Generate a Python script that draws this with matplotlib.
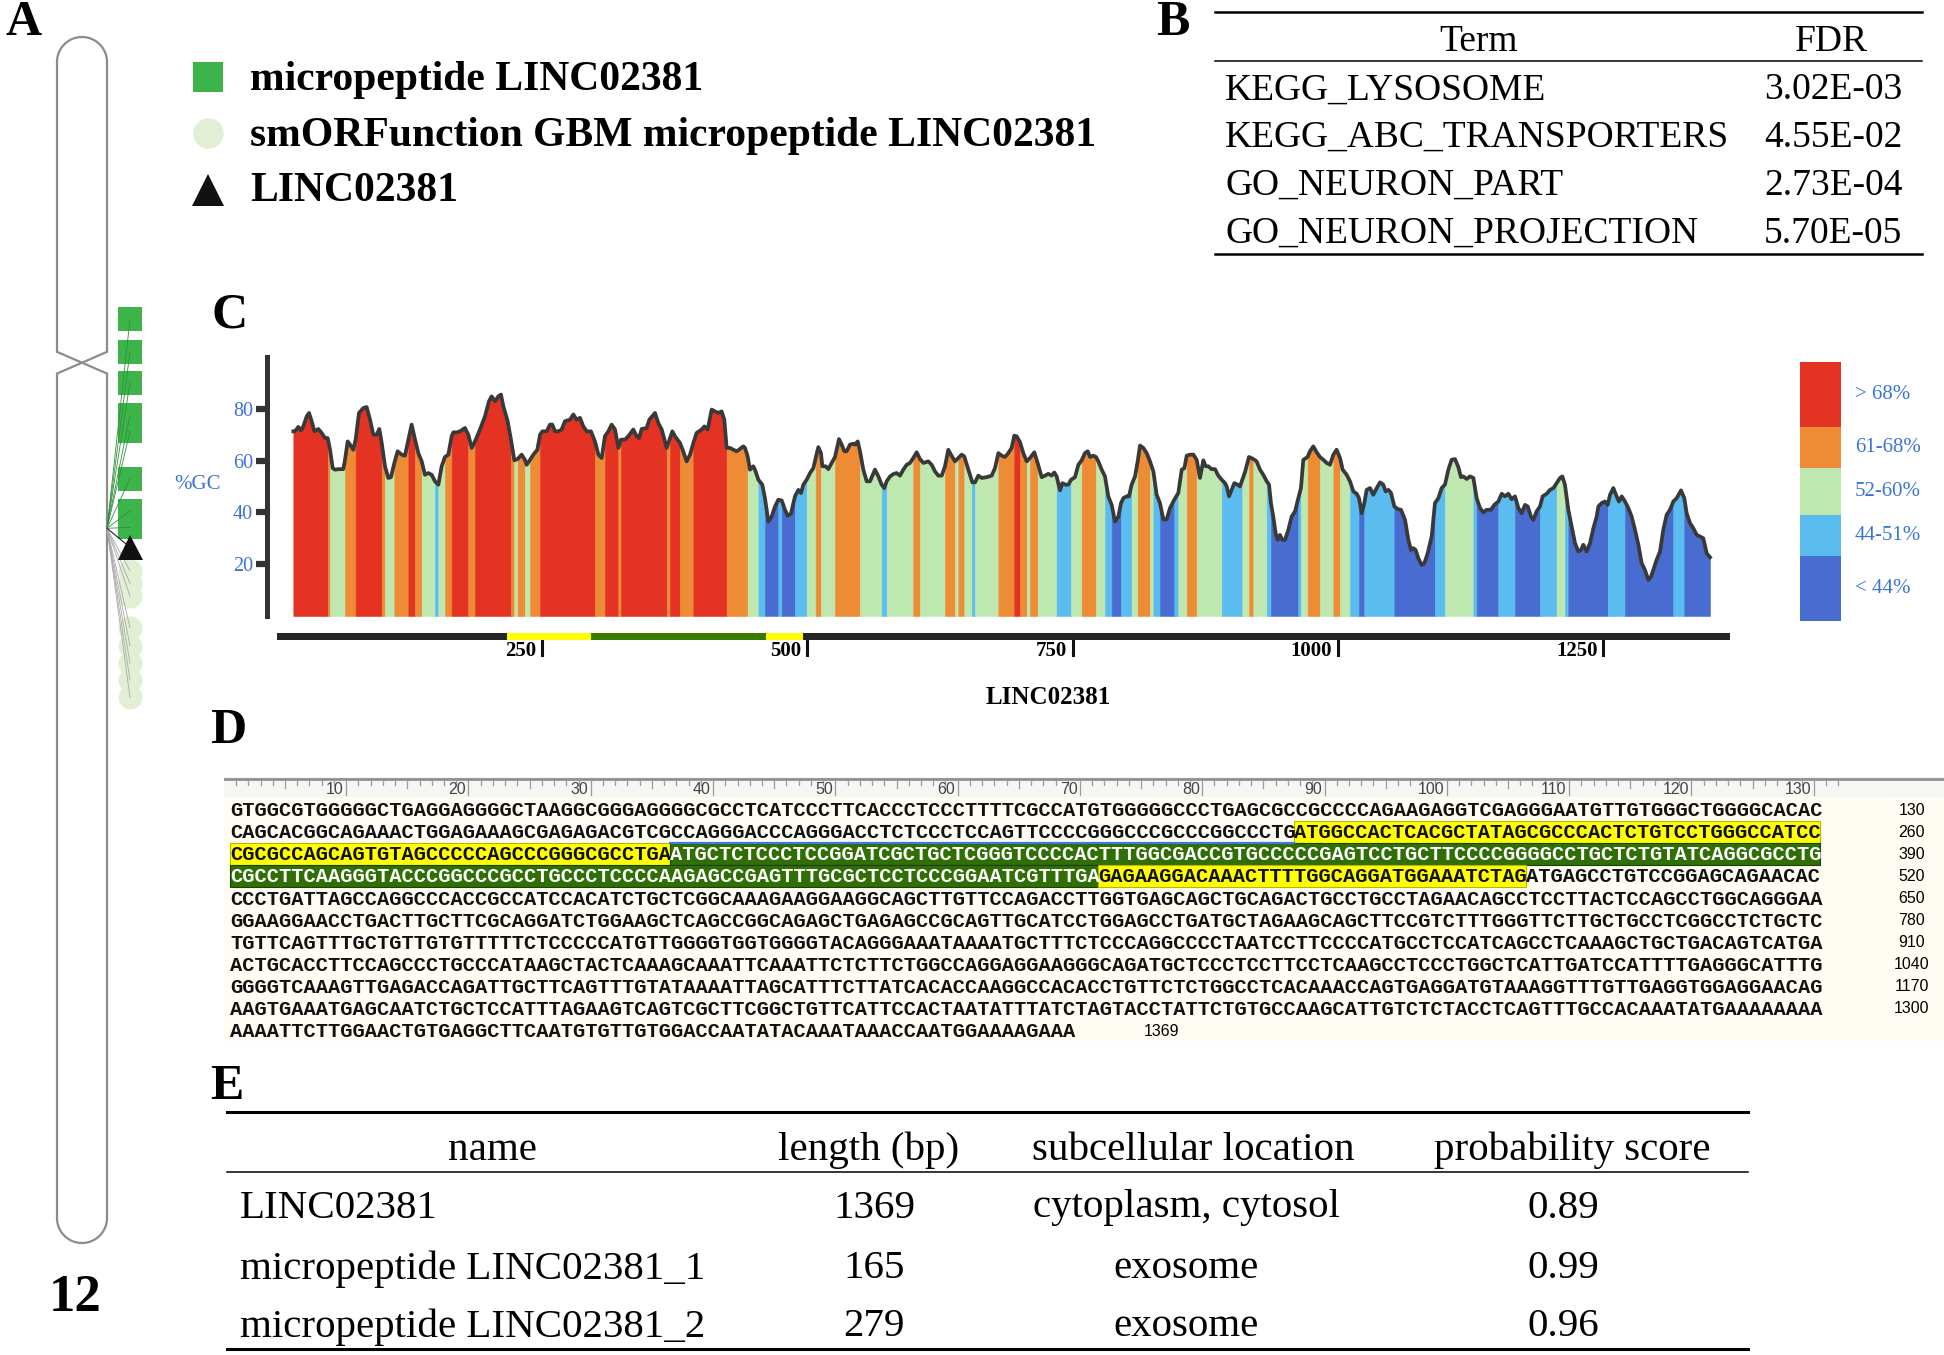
import matplotlib
matplotlib.use("Agg")
import matplotlib.pyplot as plt
import numpy as np
from matplotlib.patches import Rectangle

W, H = 1944, 1355
SERIF = "Liberation Serif"
MONO = "Liberation Mono"
SANS = "Liberation Sans"
BLUE = "#3b73d9"
GREEN = "#3cb44a"
LIGHT = "#e2efd4"

# ---- panel A: chromosome 12 ideogram (Mb) ----
chrom_len = 133.3
cen_top, cen_bot = 34.8, 37.2
gene_pos = 54.3
micropep_pos = [31.2, 34.8, 38.2, 41.8, 43.6, 48.8, 52.4, 54.2]
lnc_pos = 56.4
smorf_pos = [59.0, 60.4, 61.8, 65.3, 67.3, 69.2, 71.1, 73.0]
legend_a = ["micropeptide LINC02381", "smORFunction GBM micropeptide LINC02381", "LINC02381"]

# ---- panel B ----
b_terms = ["KEGG_LYSOSOME", "KEGG_ABC_TRANSPORTERS", "GO_NEURON_PART", "GO_NEURON_PROJECTION"]
b_fdr = ["3.02E-03", "4.55E-02", "2.73E-04", "5.70E-05"]

# ---- panel C: GC content along the transcript ----
gc_pos = [15.4, 17.0, 20.1, 22.6, 24.8, 28.0, 30.2, 32.7, 35.2, 39.0, 42.1, 45.2, 47.8, 50.0, 52.5,
          54.7, 57.8, 62.5, 64.1, 66.6, 68.8, 71.9, 74.1, 77.3, 81.4, 84.5, 87.7, 90.8, 93.9, 96.4,
          98.7, 101.8, 104.9, 107.4, 110.6, 113.7, 117.5, 120.6, 123.8, 126.9, 130.1, 133.2, 136.4,
          139.5, 142.6, 145.8, 148.9, 152.1, 155.2, 158.3, 161.5, 164.6, 166.2, 169.3, 172.5, 177.2,
          180.3, 183.5, 186.6, 191.3, 196.0, 199.8, 202.3, 205.5, 208.6, 211.1, 213.3, 217.4, 220.5,
          223.7, 226.8, 230.6, 233.7, 235.3, 238.5, 241.6, 245.4, 247.9, 250.1, 254.2, 257.3, 259.5,
          262.0, 265.2, 268.3, 271.4, 276.2, 279.3, 282.4, 285.6, 288.7, 291.9, 295.9, 299.7, 302.9,
          306.0, 309.1, 312.3, 315.4, 318.6, 321.7, 324.2, 328.0, 331.1, 335.8, 339.0, 341.2, 343.7,
          348.4, 350.9, 356.3, 359.4, 362.6, 367.3, 370.4, 372.6, 375.1, 379.8, 382.3, 386.1, 389.3,
          392.4, 395.5, 400.3, 402.8, 405.9, 409.7, 412.8, 416.0, 419.1, 421.6, 423.8, 427.0, 430.1,
          433.2, 435.4, 439.5, 441.1, 443.6, 445.8, 448.9, 450.5, 453.7, 457.4, 459.9,
          463.1, 466.2, 469.4, 472.5, 475.7, 478.8, 481.3, 484.4, 488.2, 491.4, 493.9, 496.1, 499.2,
          502.4, 505.5, 507.7, 510.2, 512.7, 514.0, 517.1, 519.6, 522.8, 525.9, 529.7, 532.2, 534.7,
          536.9, 540.1, 543.2, 544.8, 547.3, 549.5, 552.6, 555.8, 558.9, 563.6, 566.8, 569.9, 572.4,
          574.6, 577.8, 580.9, 584.0, 587.2, 590.3, 593.5, 596.6, 599.7, 602.9, 606.0, 609.2, 613.9,
          617.0, 620.2, 623.3, 626.5, 629.6, 632.7, 635.2, 639.0, 642.2, 645.3, 647.8, 651.6, 655.4,
          657.9, 661.0, 664.2, 668.9, 673.6, 676.7, 679.9, 683.0, 686.1, 689.3, 692.4, 694.9, 697.1,
          700.3, 703.4, 706.6, 709.7, 713.8, 716.9, 720.7, 723.8, 727.0, 730.1, 732.6, 734.8, 738.0,
          740.2, 743.3, 745.8, 748.4, 752.1, 755.3, 758.4, 761.5, 764.1, 766.3, 769.4, 771.9, 774.1,
          777.3, 780.4, 783.5, 786.7, 789.8, 793.0, 795.5, 797.7, 800.8, 803.0, 805.5, 808.7, 811.2,
          813.4, 816.5, 819.7, 822.8, 826.0, 829.1, 832.2, 835.4, 838.5, 841.7, 845.7, 849.5, 852.7,
          855.2, 857.4, 860.5, 863.7, 866.8, 869.9, 873.1, 875.3, 877.8, 880.9, 884.1, 887.2, 890.4,
          893.5, 895.1, 897.3, 899.8, 902.3, 905.4, 907.6, 909.8, 912.3,
          916.1, 920.2, 923.3, 926.5, 929.6, 932.8, 935.0, 936.8, 939.0, 941.2, 943.1, 945.3, 947.5,
          950.0, 953.2, 956.3, 959.5, 962.6, 965.1, 967.3, 971.4, 973.6, 976.7, 979.9, 983.0, 986.2,
          989.3, 992.5, 995.6, 998.7, 1001.9, 1004.4, 1008.2, 1011.3, 1014.5, 1017.6, 1019.8, 1022.3,
          1024.8, 1027.0, 1030.2, 1033.3, 1036.5, 1039.6, 1042.7, 1044.9, 1047.5, 1050.0, 1053.1,
          1056.3, 1059.4, 1063.2, 1066.3, 1068.8, 1071.0, 1073.2, 1075.7, 1078.9, 1081.4, 1084.5,
          1088.3, 1091.4, 1094.6, 1097.7, 1100.8, 1104.0, 1107.1, 1110.3, 1113.4, 1115.9, 1118.1,
          1121.3, 1124.4, 1127.6, 1130.7, 1133.8, 1137.0, 1140.1, 1144.2, 1147.3, 1151.1, 1154.3,
          1157.4, 1160.5, 1163.7, 1166.8, 1170.0, 1173.1, 1176.3, 1178.8, 1181.9, 1184.1, 1187.2,
          1190.4, 1192.9, 1196.7, 1199.8, 1203.0, 1206.1, 1209.2, 1211.4, 1213.9, 1217.1, 1220.2,
          1223.4, 1226.5, 1229.0, 1231.2, 1234.4, 1237.5, 1240.7, 1243.8, 1245.4, 1248.5, 1251.6,
          1254.2, 1256.4, 1259.5, 1262.6, 1264.8, 1267.4, 1270.5, 1273.6, 1276.8, 1279.9, 1283.1,
          1286.2, 1289.3, 1292.5, 1295.0, 1297.2, 1300.3, 1303.5, 1306.6, 1309.8, 1312.9, 1316.0,
          1319.2, 1323.3, 1326.4, 1328.6, 1331.8, 1334.9, 1338.1, 1341.2, 1344.3, 1347.5, 1350.6]
gc_val = [71.3, 71.3, 73.0, 71.7, 73.2, 77.1, 78.4, 75.2, 71.3, 72.2, 70.7, 68.7, 68.7, 64.2, 57.1,
          56.5, 56.7, 56.7, 60.3, 67.4, 66.2, 64.2, 68.1, 78.4, 80.3, 80.7, 75.8, 70.0, 70.0, 72.2,
          66.8, 57.8, 53.3, 53.6, 59.1, 63.6, 62.3, 61.9, 68.1, 73.9, 68.1, 62.9, 59.7,
          54.5, 55.2, 54.5, 52.0, 50.7, 57.8, 61.4, 62.3, 69.4, 70.9, 70.9, 71.3, 72.6,
          70.0, 64.9, 67.4, 72.0, 77.1, 82.9, 84.8, 82.9, 84.8, 85.5, 81.0, 75.2, 68.1,
          60.1, 60.6, 62.3, 60.3, 58.4, 60.3, 62.3, 64.2, 70.0, 71.3, 71.3, 73.9, 73.9,
          71.3, 71.3, 72.0, 75.2, 75.8, 77.8, 75.8, 76.5, 73.2, 71.3, 71.3, 67.4, 62.3,
          61.0, 69.4, 71.3, 73.9, 72.0, 64.9, 68.1, 68.1, 69.4, 72.0, 69.4, 68.7, 72.2,
          72.6, 75.8, 78.4, 74.5, 72.0, 64.9, 68.7, 71.3, 69.4, 66.8, 64.2, 59.7, 62.3,
          66.8, 70.7, 72.0, 73.2, 72.0, 79.7, 79.0, 78.4, 79.0, 75.8, 64.9, 64.9, 64.2,
          63.6, 64.2, 65.5, 64.9, 61.6, 56.5, 57.8, 56.5, 52.6, 50.7, 45.5,
          36.5, 38.4, 42.3, 44.9, 44.6, 41.0, 38.7, 39.5, 46.2, 48.7, 47.5, 50.7, 52.6,
          55.2, 57.1, 61.0, 65.2, 62.9, 57.8, 57.8, 56.7, 59.1, 61.4, 68.3, 66.2, 63.6,
          63.6, 66.2, 66.5, 66.2, 67.4, 63.6, 56.5, 52.0, 52.0, 56.5, 53.9, 50.7, 49.4,
          52.0, 53.9, 54.8, 55.2, 54.2, 56.5, 58.4, 59.1, 61.0, 63.2, 60.6, 59.1, 59.7,
          58.4, 55.8, 54.2, 54.2, 57.8, 64.2, 62.3, 59.7, 61.0, 62.3, 61.6, 56.5, 51.6,
          51.6, 54.2, 53.3, 53.6, 54.2, 57.1, 62.9, 61.9, 61.4, 62.9, 64.9, 69.6, 69.4,
          67.1, 62.9, 59.7, 61.0, 63.2, 59.1, 53.6, 54.2, 54.9, 54.2, 55.4, 53.9, 48.5,
          51.3, 50.7, 50.7, 52.6, 53.6, 58.4, 60.1, 62.9, 63.6, 61.4, 61.9, 61.4, 59.7,
          56.5, 53.9, 46.2, 42.9, 36.5, 38.4, 43.6, 45.5, 46.2, 46.2, 50.7, 53.9, 59.7,
          65.8, 64.9, 62.9, 59.7, 55.8, 46.8, 43.6, 37.3, 37.3, 41.7, 44.9, 47.5, 56.5,
          57.1, 61.9, 62.3, 62.3, 60.3, 53.3, 60.1, 57.8, 57.8, 56.7, 56.7, 54.2, 52.6,
          51.3, 50.0, 46.2, 48.7, 51.3, 50.7, 50.0, 52.6, 55.5,
          61.4, 60.6, 59.7, 56.5, 54.5, 52.0, 50.7, 43.6, 38.4, 32.0, 29.4, 31.3, 29.4,
          29.4, 33.3, 38.4, 40.4, 45.5, 49.4, 60.3, 61.4, 63.6, 65.5, 63.2, 61.4, 60.3,
          59.1, 58.4, 62.3, 64.2, 61.0, 56.5, 54.5, 52.0, 48.1, 47.2, 45.5, 39.7,
          43.6, 48.7, 49.4, 46.8, 49.4, 51.6, 50.7, 48.1, 48.7, 47.5, 42.3,
          41.3, 41.0, 37.1, 29.4, 25.5, 26.2, 25.5, 22.3, 19.7, 20.4, 24.2,
          30.7, 43.6, 45.5, 49.4, 50.7, 56.5, 60.3, 60.6, 57.5, 53.6, 53.9,
          52.9, 53.9, 53.3, 45.5, 41.7, 40.0, 41.0, 41.0, 42.9, 44.2, 47.2,
          46.2, 47.2, 45.1, 46.2, 41.7, 39.7, 42.9, 42.3, 38.4, 37.1, 40.4,
          42.3, 46.2, 47.2, 48.7, 49.4, 51.3, 53.3, 53.9, 50.7, 41.0, 34.6,
          28.1, 24.9, 25.5, 27.5, 24.9, 28.1, 33.9, 38.4, 42.3, 43.6, 44.2,
          42.9, 46.8, 49.4, 46.2, 44.2, 46.2, 44.2, 41.7, 38.4, 33.3, 27.5,
          20.4, 17.8, 13.9, 15.2, 17.8, 21.7, 24.9, 33.3, 39.1, 41.0, 44.2,
          45.5, 48.5, 45.5, 39.7, 35.8, 33.9, 31.3, 30.7, 30.0, 24.2, 22.7]
tick_bp = [250, 500, 750, 1000, 1250]
gc_labels = ["> 68%", "61-68%", "52-60%", "44-51%", "< 44%"]
gc_colors = ["#e53323", "#ee8c35", "#bfe8b0", "#5bbcf0", "#486cd0"]

seq_len = 1369
utr_regions = [(218, 296), (462, 496)]
orf_region = (297, 461)

# ---- panel D: transcript sequence ----
seq_lines = [
    "GTGGCGTGGGGGCTGAGGAGGGGCTAAGGCGGGAGGGGCGCCTCATCCCTTCACCCTCCCTTTTCGCCATGTGGGGGCCCTGAGCGCCGCCCCAGAAGAGGTCGAGGGAATGTTGTGGGCTGGGGCACAC",
    "CAGCACGGCAGAAACTGGAGAAAGCGAGAGACGTCGCCAGGGACCCAGGGACCTCTCCCTCCAGTTCCCCGGGCCCGCCCGGCCCTGATGGCCACTCACGCTATAGCGCCCACTCTGTCCTGGGCCATCC",
    "CGCGCCAGCAGTGTAGCCCCCAGCCCGGGCGCCTGAATGCTCTCCCTCCGGATCGCTGCTCGGGTCCCCACTTTGGCGACCGTGCCCCCGAGTCCTGCTTCCCCGGGGCCTGCTCTGTATCAGGCGCCTG",
    "CGCCTTCAAGGGTACCCGGCCCGCCTGCCCTCCCCAAGAGCCGAGTTTGCGCTCCTCCCGGAATCGTTTGAGAGAAGGACAAACTTTTGGCAGGATGGAAATCTAGATGAGCCTGTCCGGAGCAGAACAC",
    "CCCTGATTAGCCAGGCCCACCGCCATCCACATCTGCTCGGCAAAGAAGGAAGGCAGCTTGTTCCAGACCTTGGTGAGCAGCTGCAGACTGCCTGCCTAGAACAGCCTCCTTACTCCAGCCTGGCAGGGAA",
    "GGAAGGAACCTGACTTGCTTCGCAGGATCTGGAAGCTCAGCCGGCAGAGCTGAGAGCCGCAGTTGCATCCTGGAGCCTGATGCTAGAAGCAGCTTCCGTCTTTGGGTTCTTGCTGCCTCGGCCTCTGCTC",
    "TGTTCAGTTTGCTGTTGTGTTTTTCTCCCCCATGTTGGGGTGGTGGGGTACAGGGAAATAAAATGCTTTCTCCCAGGCCCCTAATCCTTCCCCATGCCTCCATCAGCCTCAAAGCTGCTGACAGTCATGA",
    "ACTGCACCTTCCAGCCCTGCCCATAAGCTACTCAAAGCAAATTCAAATTCTCTTCTGGCCAGGAGGAAGGGCAGATGCTCCCTCCTTCCTCAAGCCTCCCTGGCTCATTGATCCATTTTGAGGGCATTTG",
    "GGGGTCAAAGTTGAGACCAGATTGCTTCAGTTTGTATAAAATTAGCATTTCTTATCACACCAAGGCCACACCTGTTCTCTGGCCTCACAAACCAGTGAGGATGTAAAGGTTTGTTGAGGTGGAGGAACAG",
    "AAGTGAAATGAGCAATCTGCTCCATTTAGAAGTCAGTCGCTTCGGCTGTTCATTCCACTAATATTTATCTAGTACCTATTCTGTGCCAAGCATTGTCTCTACCTCAGTTTGCCACAAATATGAAAAAAAA",
    "AAAATTCTTGGAACTGTGAGGCTTCAATGTGTTGTGGACCAATATACAAATAAACCAATGGAAAAGAAA",
]

# ---- panel E ----
e_header = ["name", "length (bp)", "subcellular location", "probability score"]
e_names = ["LINC02381", "micropeptide LINC02381_1", "micropeptide LINC02381_2"]
e_length = [1369, 165, 279]
e_location = ["cytoplasm, cytosol", "exosome", "exosome"]
e_score = [0.89, 0.99, 0.96]


fig = plt.figure(figsize=(W / 100, H / 100), dpi=100)


def add_ax(x0, y0, x1, y1):
    return fig.add_axes([x0 / W, 1 - y1 / H, (x1 - x0) / W, (y1 - y0) / H])


ax0 = add_ax(0, 0, W, H)
ax0.set_xlim(0, W)
ax0.set_ylim(H, 0)
ax0.axis("off")


def txt(x, y, s, size, **kw):
    kw.setdefault("family", SERIF)
    kw.setdefault("va", "center")
    ax0.text(x, y, s, fontsize=size, **kw)


# panel letters
for lab, x, y in [("A", 24, 23), ("B", 1173, 23), ("C", 230, 315), ("D", 228, 731), ("E", 227, 1087)]:
    txt(x, y, lab, 36, ha="center", weight="bold")
txt(75, 1298, "12", 38, ha="center", weight="bold")

# ---------- A ----------
axA = add_ax(40, 37, 260, 1243)
axA.set_xlim(40, 260)
axA.set_ylim(chrom_len, 0)
axA.axis("off")
xl, xr, cx, rx = 57, 107, 82, 25
ry = rx * chrom_len / 1206
t = np.linspace(0, np.pi, 60)
ux = [xl] + list(cx - rx * np.cos(t)) + [xr]
uy = [cen_top] + list(ry - ry * np.sin(t)) + [cen_top]
lx = [xl] + list(cx - rx * np.cos(t)) + [xr]
ly = [cen_bot] + list(chrom_len - ry + ry * np.sin(t)) + [cen_bot]
for xs, ys in [(ux, uy), (lx, ly), ([xl, xr], [cen_top, cen_bot]), ([xr, xl], [cen_top, cen_bot])]:
    axA.plot(xs, ys, color="#8c8c8c", lw=1.6, clip_on=False, solid_capstyle="round")

mx = 130
axA.plot([mx] * len(smorf_pos), smorf_pos, "o", ms=17.3, color=LIGHT, mew=0, zorder=2)
axA.plot([mx] * len(micropep_pos), micropep_pos, "s", ms=17.3, color=GREEN, mew=0, zorder=2)
axA.plot([mx], [lnc_pos], "^", ms=18, color="#111111", mew=0, zorder=4)
for y in micropep_pos:
    axA.plot([xr, mx], [gene_pos, y], color="#2f8f3c", lw=0.6, zorder=3)
for y in smorf_pos:
    axA.plot([xr, mx], [gene_pos, y], color="#a8a8a8", lw=0.6, zorder=3)
axA.plot([xr, mx], [gene_pos, lnc_pos], color="#222222", lw=0.8, zorder=3)

# legend for A
ax0.plot(208, 77, "s", ms=22, color=GREEN, mew=0)
ax0.plot(208, 133, "o", ms=22, color=LIGHT, mew=0)
ax0.plot(208, 190, "^", ms=23, color="#111111", mew=0)
for k, lab in enumerate(legend_a):
    txt(250, [80, 136, 191][k], lab, 30, ha="left", weight="bold")

# ---------- B ----------
for y, lw in [(12, 1.8), (61, 1.1), (254, 1.8)]:
    ax0.plot([1215, 1922], [y, y], color="black", lw=lw)
txt(1479, 42, "Term", 27, ha="center")
txt(1831, 42, "FDR", 27, ha="center")
for k, (term, fdr) in enumerate(zip(b_terms, b_fdr)):
    y = 90 + 47.9 * k
    txt(1225, y, term, 27, ha="left")
    txt(1764, y, fdr, 27, ha="left")

# ---------- C ----------
axC = add_ax(267, 357, 1745, 706.65)
axC.set_xlim(-9.42, 1383.6)
axC.set_ylim(-35, 100)
axC.set_facecolor("none")
for s in ["top", "right", "bottom"]:
    axC.spines[s].set_visible(False)
axC.spines["left"].set_bounds(0, 100)
axC.spines["left"].set_linewidth(3.6)
axC.spines["left"].set_color("#333333")
axC.set_xticks([])
axC.set_yticks([20, 40, 60, 80])
axC.tick_params(axis="y", length=8, width=4.5, color="#333333", labelcolor=BLUE, labelsize=14.5, pad=2)
for lab in axC.get_yticklabels():
    lab.set_family(SERIF)
axC.text(-74.5, 50.6, "%GC", color=BLUE, fontsize=15, family=SERIF, ha="center", va="center")


def band(v):
    if v > 68:
        return 0
    if v >= 61:
        return 1
    if v >= 52:
        return 2
    if v >= 44:
        return 3
    return 4


seg = [band((gc_val[i] + gc_val[i + 1]) / 2) for i in range(len(gc_pos) - 1)]
start = 0
for i in range(1, len(seg) + 1):
    if i == len(seg) or seg[i] != seg[start]:
        col = gc_colors[seg[start]]
        axC.fill_between(gc_pos[start:i + 1], 0, gc_val[start:i + 1], color=col, lw=0.4, ec=col)
        start = i
axC.plot(gc_pos, gc_val, color="#393939", lw=2.7, solid_joinstyle="round", zorder=3)

# position bar
axC.barh(-7.9, seq_len, left=0, height=2.7, color="#262626")
for a, b in utr_regions:
    axC.barh(-7.9, b - a + 1, left=a - 1, height=2.7, color="#ffff00")
axC.barh(-7.9, orf_region[1] - orf_region[0] + 1, left=orf_region[0] - 1, height=2.7, color="#3a7a00")
for tb in tick_bp:
    axC.plot([tb, tb], [-9.8, -15.0], color="#111111", lw=2.2, clip_on=False)
    axC.text(tb - 5.5, -13.4, str(tb), ha="right", va="center", fontsize=15, fontweight="bold", family=SERIF)
axC.text(726.7, -31.3, "LINC02381", ha="center", va="center", fontsize=18, fontweight="bold", family=SERIF)

# colour legend
y0 = 362
for lab, col, hgt in zip(gc_labels, gc_colors, [65, 41, 47, 41, 65]):
    ax0.add_patch(Rectangle((1800, y0), 41, hgt, color=col, lw=0))
    txt(1855, y0 + hgt / 2, lab, 15, ha="left", color=BLUE)
    y0 += hgt

# ---------- D ----------
axD = add_ax(224, 777, 1944, 1041)
axD.set_xlim(-0.49, 140.15)
axD.set_ylim(10.45, -1.493)
axD.set_facecolor("#fefcf3")
axD.set_xticks([])
axD.set_yticks([])
for s in axD.spines.values():
    s.set_visible(False)
axD.add_patch(Rectangle((-0.49, -1.493), 140.64, 0.9, color="#f6f6f4", lw=0))
axD.axhline(-1.41, color="#8f8f8f", lw=2)
for k in range(1, 133):
    ln = 0.63 if k % 10 == 0 else (0.32 if k % 5 == 0 else 0.17)
    axD.plot([k - 0.5] * 2, [-1.31, -1.31 + ln], color="#9a9a9a", lw=0.9)
for n in range(10, 131, 10):
    axD.text(n - 0.7, -0.93, str(n), ha="right", va="center", fontsize=11.5, color="#444444", family=SANS)

SEQ_FS = 12.23 / 0.6 * 0.72


def region_of(g):
    if orf_region[0] <= g <= orf_region[1]:
        return "orf"
    for a, b in utr_regions:
        if a <= g <= b:
            return "utr"
    return "plain"


for i, line in enumerate(seq_lines):
    kinds = [region_of(i * 130 + c + 1) for c in range(len(line))]
    c0 = 0
    for c in range(1, len(line) + 1):
        if c == len(line) or kinds[c] != kinds[c0]:
            kind = kinds[c0]
            if kind == "utr":
                axD.add_patch(Rectangle((c0, i - 0.5), c - c0, 1.0, fc="#ffff00", ec="#b8b800", lw=0.8))
            elif kind == "orf":
                axD.add_patch(Rectangle((c0, i - 0.5), c - c0, 1.0, fc="#306e06", ec="#1c4200", lw=0.8))
            axD.text(c0, i + 0.03, line[c0:c], family=MONO, weight="bold", fontsize=SEQ_FS,
                     color="white" if kind == "orf" else "#111111", va="center", ha="left")
            c0 = c
    if len(line) == 130:
        axD.text(137.5, i, str((i + 1) * 130), ha="center", va="center", fontsize=11.5, family=SANS)
    else:
        axD.text(76.2, i, str(seq_len), ha="center", va="center", fontsize=11.5, family=SANS)
axD.plot([36, 87], [1.5, 1.5], color="#3f78e0", lw=1.6)

# ---------- E ----------
for y, lw in [(1112, 2.2), (1172, 1.1), (1349, 2.2)]:
    ax0.plot([227, 1748], [y, y], color="black", lw=lw)
for lab, x in zip(e_header, [492, 869, 1193, 1572]):
    txt(x, 1150, lab, 29.5, ha="center")
for k in range(3):
    y = [1208, 1269, 1327][k]
    txt(240, y, e_names[k], 29.5, ha="left")
    txt(874, y, str(e_length[k]), 29.5, ha="center")
    txt(1186, y, e_location[k], 29.5, ha="center")
    txt(1563, y, "%.2f" % e_score[k], 29.5, ha="center")

fig.savefig("out.png", dpi=100, facecolor="white")
